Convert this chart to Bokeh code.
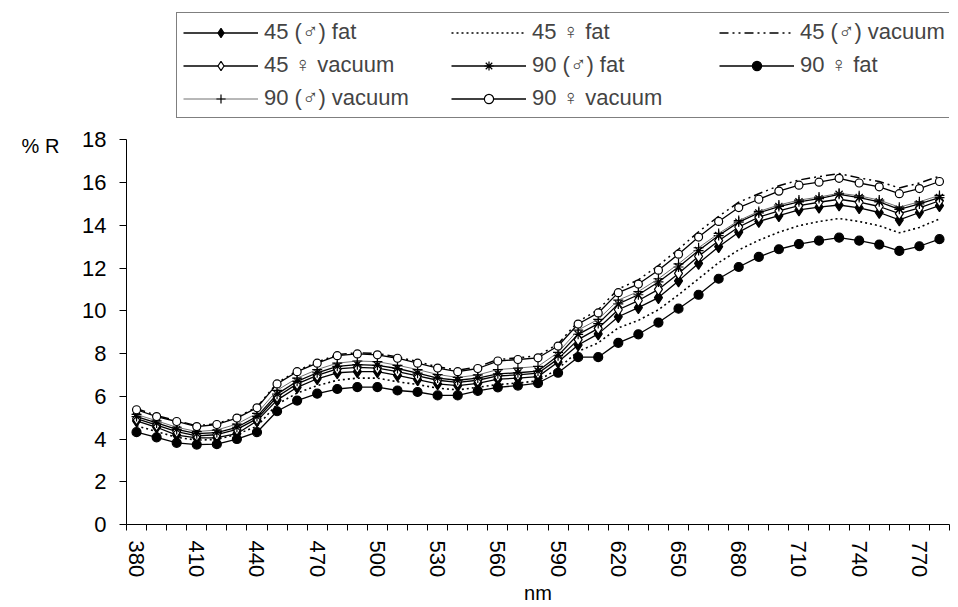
from bokeh.plotting import figure
from bokeh.layouts import row
from bokeh.models import (Range1d, FixedTicker, Legend, LegendItem, Label)
from bokeh.embed import file_html
from bokeh.resources import INLINE

# ---------------- data ----------------
nm = list(range(380, 781, 10))
x_tick_labels = [380, 410, 440, 470, 500, 530, 560, 590, 620, 650, 680, 710, 740, 770]
y_ticks = [0, 2, 4, 6, 8, 10, 12, 14, 16, 18]

labels = ["45 (\u2642) fat", "45 \u2640 fat", "45 (\u2642) vacuum",
          "45 \u2640 vacuum", "90 (\u2642) fat", "90 \u2640 fat",
          "90 (\u2642) vacuum", "90 \u2640 vacuum"]

m45_fat = [4.85, 4.55, 4.18, 4.05, 4.06, 4.25, 4.85, 5.82, 6.42, 6.82, 7.10, 7.15, 7.15, 6.98,
           6.78, 6.58, 6.50, 6.60, 6.80, 6.85, 6.92, 7.60, 8.40, 8.92, 9.72, 10.15, 10.62, 11.40,
           12.22, 13.00, 13.68, 14.18, 14.45, 14.72, 14.85, 14.95, 14.82, 14.60, 14.25, 14.60, 14.92]
f45_fat = [4.62, 4.35, 4.08, 3.95, 3.98, 4.22, 4.60, 5.62, 6.15, 6.50, 6.75, 6.85, 6.85, 6.68,
           6.55, 6.38, 6.30, 6.42, 6.55, 6.62, 6.72, 7.30, 8.10, 8.50, 9.20, 9.55, 10.05, 10.75,
           11.50, 12.25, 12.85, 13.30, 13.68, 13.98, 14.18, 14.32, 14.18, 13.98, 13.65, 13.90, 14.30]
m45_vac = [5.42, 5.10, 4.86, 4.62, 4.72, 5.02, 5.50, 6.62, 7.20, 7.60, 7.95, 8.04, 8.00, 7.84,
           7.62, 7.38, 7.22, 7.38, 7.72, 7.80, 7.90, 8.45, 9.50, 10.05, 11.02, 11.45, 12.12, 12.88,
           13.70, 14.42, 15.08, 15.48, 15.85, 16.12, 16.28, 16.42, 16.22, 16.05, 15.75, 15.98, 16.30]
f45_vac = [4.95, 4.65, 4.35, 4.15, 4.20, 4.45, 4.95, 5.98, 6.58, 6.98, 7.28, 7.35, 7.32, 7.15,
           6.95, 6.75, 6.65, 6.75, 6.95, 7.00, 7.08, 7.75, 8.65, 9.18, 10.05, 10.48, 11.00, 11.75,
           12.55, 13.28, 13.92, 14.38, 14.68, 14.92, 15.08, 15.22, 15.08, 14.88, 14.55, 14.82, 15.15]
m90_fat = [5.05, 4.75, 4.45, 4.25, 4.30, 4.55, 5.05, 6.10, 6.70, 7.10, 7.40, 7.48, 7.45, 7.30,
           7.08, 6.85, 6.75, 6.85, 7.05, 7.10, 7.18, 7.90, 8.90, 9.40, 10.32, 10.75, 11.35, 12.05,
           12.82, 13.52, 14.15, 14.58, 14.88, 15.10, 15.25, 15.45, 15.30, 15.10, 14.75, 15.00, 15.30]
f90_fat = [4.32, 4.08, 3.82, 3.74, 3.76, 4.00, 4.32, 5.30, 5.80, 6.12, 6.34, 6.43, 6.43, 6.27,
           6.20, 6.04, 6.04, 6.25, 6.42, 6.50, 6.62, 7.10, 7.83, 7.83, 8.50, 8.90, 9.45, 10.10,
           10.75, 11.50, 12.05, 12.52, 12.88, 13.12, 13.28, 13.42, 13.28, 13.10, 12.80, 13.02, 13.35]
m90_vac = [5.15, 4.85, 4.55, 4.35, 4.42, 4.70, 5.20, 6.28, 6.85, 7.25, 7.55, 7.65, 7.62, 7.45,
           7.25, 7.02, 6.88, 7.00, 7.25, 7.32, 7.40, 8.05, 9.10, 9.60, 10.50, 10.90, 11.50, 12.20,
           12.95, 13.62, 14.22, 14.65, 14.95, 15.18, 15.32, 15.50, 15.38, 15.18, 14.85, 15.10, 15.40]
f90_vac = [5.37, 5.05, 4.82, 4.58, 4.68, 4.98, 5.46, 6.58, 7.15, 7.55, 7.90, 7.98, 7.94, 7.78,
           7.55, 7.32, 7.15, 7.30, 7.65, 7.72, 7.80, 8.35, 9.38, 9.90, 10.85, 11.25, 11.90, 12.65,
           13.45, 14.18, 14.83, 15.22, 15.60, 15.88, 16.02, 16.20, 15.98, 15.80, 15.48, 15.72, 16.05]

FONT = "Liberation Sans"
FS = "22px"

# narrow strip on the left that carries the "% R" axis title (pixel-mapped ranges)
pl = figure(width=79, height=607, output_backend="svg", toolbar_location=None,
            x_range=Range1d(0, 79), y_range=Range1d(607, 0),
            x_axis_location=None, y_axis_location=None, min_border=0)
pl.outline_line_color = None
pl.grid.visible = False
pl.add_layout(Label(x=40, y=168, text="% R", text_font=FONT, text_font_size="20px",
                    text_align="center", text_baseline="middle", text_color="black"))

# main chart: frame spans from the top of the canvas; y axis line bounded to 0..18
p = figure(width=879, height=607, output_backend="svg", toolbar_location=None,
           x_range=Range1d(375, 785), y_range=Range1d(0, 24.52),
           min_border_left=46, min_border_right=9, min_border_top=0, min_border_bottom=83)
p.outline_line_color = None
p.xgrid.visible = False
p.ygrid.visible = False
p.background_fill_color = "white"
p.border_fill_color = "white"

# x axis: labels at every 3rd category, ticks at category boundaries
bounds = [v - 5 for v in nm] + [nm[-1] + 5]
p.xaxis.ticker = FixedTicker(ticks=x_tick_labels, minor_ticks=bounds)
p.xaxis.major_tick_line_color = None
p.xaxis.minor_tick_out = 6
p.xaxis.minor_tick_in = 0
p.xaxis.minor_tick_line_color = "black"
p.xaxis.axis_line_color = "black"
p.xaxis.major_label_orientation = "vertical"
p.xaxis.major_label_standoff = 10
p.xaxis.major_label_text_font = FONT
p.xaxis.major_label_text_font_size = FS
p.xaxis.major_label_text_color = "black"
p.xaxis.axis_label = "nm"
p.xaxis.axis_label_standoff = 2
p.xaxis.axis_label_text_font = FONT
p.xaxis.axis_label_text_font_size = "20px"
p.xaxis.axis_label_text_font_style = "normal"
p.xaxis.axis_label_text_color = "black"

p.yaxis.bounds = (0, 18)
p.yaxis.ticker = FixedTicker(ticks=y_ticks, minor_ticks=[])
p.yaxis.major_tick_out = 7
p.yaxis.major_tick_in = 0
p.yaxis.minor_tick_line_color = None
p.yaxis.major_tick_line_color = "black"
p.yaxis.axis_line_color = "black"
p.yaxis.major_label_standoff = 13
p.yaxis.major_label_text_font = FONT
p.yaxis.major_label_text_font_size = FS
p.yaxis.major_label_text_color = "black"

renderers = []

def series(ys, dash="solid", lcolor="black", lw=1.3, marker=None, size=8, fill="black"):
    rs = [p.line(nm, ys, line_color=lcolor, line_width=lw, line_dash=dash)]
    if marker is not None:
        rs.append(p.scatter(nm, ys, marker=marker, size=size, fill_color=fill,
                            line_color="black", line_width=1.2))
    renderers.append(rs)

series(m45_fat, marker="diamond", size=12, fill="black")
series(f45_fat, dash="2 3", lw=1.6)
series(m45_vac, dash="9 4 2 4 2 4", lw=1.5)
series(f45_vac, marker="diamond", size=12, fill="white")
series(m90_fat, marker="asterisk", size=10)
series(f90_fat, marker="circle", size=9, fill="black")
series(m90_vac, lcolor="#707070", lw=1.0, marker="cross", size=10)
series(f90_vac, marker="circle", size=8, fill="white")

# column-major fill so that rows read: items 0-2, 3-5, 6-7
order = [0, 3, 6, 1, 4, 7, 2, 5]
items = [LegendItem(label=labels[i], renderers=renderers[i]) for i in order]

legend = Legend(items=items, location=(50, 406), orientation="vertical", nrows=3, ncols=3,
                glyph_width=75, glyph_height=23, label_height=23, label_width=180,
                label_standoff=6, spacing=7, padding=6, margin=0,
                label_text_font=FONT, label_text_font_size=FS,
                border_line_color="black", border_line_width=1,
                background_fill_color="white", background_fill_alpha=1.0)
p.add_layout(legend, "center")

layout = row(pl, p, spacing=0)
open("out.html", "w").write(file_html(layout, INLINE))
